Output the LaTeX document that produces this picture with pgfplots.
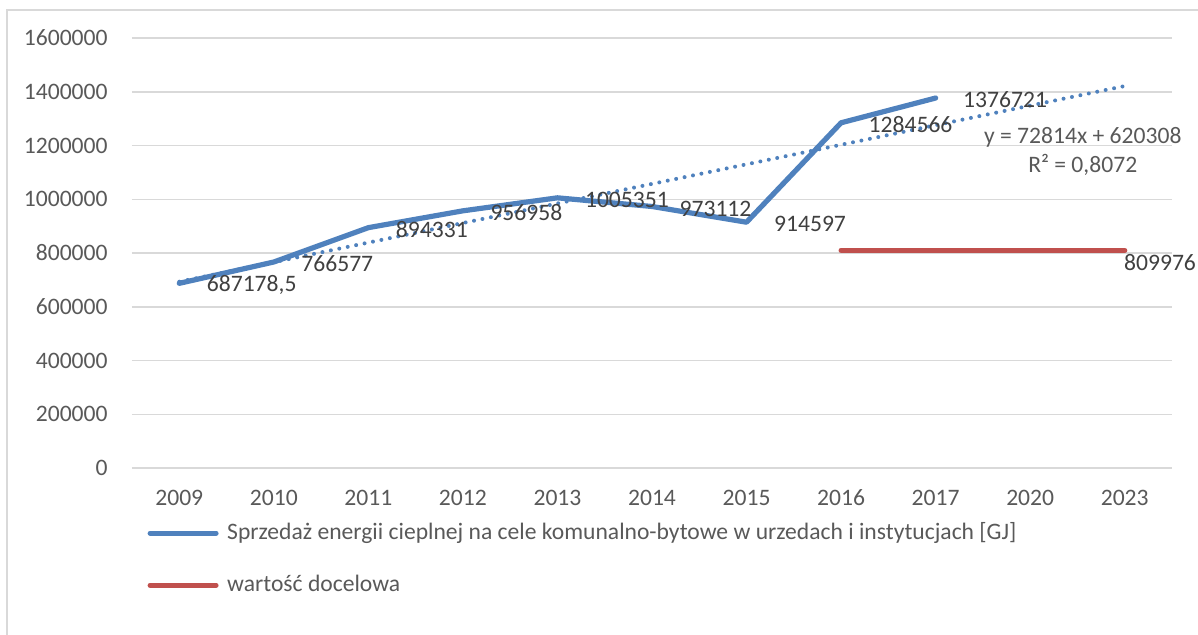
\documentclass[border=0pt]{standalone}
\usepackage{pgfplots}
\pgfplotsset{compat=1.18}
\usepackage{fontspec}
\setmainfont{Carlito}
\definecolor{serblue}{HTML}{4F81BD}
\definecolor{serred}{HTML}{C0504D}
\definecolor{gridgray}{HTML}{D9D9D9}
\definecolor{ticktext}{HTML}{595959}
\definecolor{lbltext}{HTML}{404040}
\newcommand{\chartfont}{\fontsize{11.8}{14.5}\selectfont}

\begin{document}
\begin{tikzpicture}
\chartfont
\path[use as bounding box] (-66pt,-83pt) rectangle (533pt,234pt);
\draw[gridgray, line width=0.8pt] (-62.5pt,-95pt) -- (-62.5pt,229pt) -- (545pt,229pt);
\begin{axis}[
  at={(0pt,0pt)}, anchor=south west,
  scale only axis, width=520pt, height=215pt,
  xmin=-0.5, xmax=10.5, ymin=0, ymax=1600000,
  xtick={0,...,10},
  xticklabels={2009,2010,2011,2012,2013,2014,2015,2016,2017,2020,2023},
  ytick={0,200000,400000,600000,800000,1000000,1200000,1400000,1600000},
  scaled y ticks=false,
  yticklabel={\pgfmathprintnumber[fixed,precision=0,1000 sep={},assume math mode=true]{\tick}},
  axis line style={draw=none}, major tick length=0pt,
  ymajorgrids, grid style={gridgray, line width=0.75pt},
  tick label style={font=\chartfont, text=ticktext},
  yticklabel style={anchor=east, inner sep=0pt, xshift=-12pt},
  xticklabel style={anchor=north, inner sep=0pt, yshift=-10.75pt},
  clip=false, no markers,
  legend image code/.code={
    \path (0pt,0pt) (35.5pt,0pt);
    \draw[#1, line width=2.5pt, line cap=round] (1.25pt,0pt) -- (34.25pt,0pt);
  },
  legend cell align=left,
  legend style={draw=none, fill=none, inner sep=0pt, outer sep=0pt,
    at={(axis description cs:0.0125,-0.2116)}, anchor=west,
    row sep=16pt, font=\chartfont, text=ticktext,
    nodes={inner sep=0pt, inner xsep=3pt}},
  every node near coord/.append style={anchor=west, inner sep=0pt,
    font=\chartfont, text=lbltext},
]
\addplot[serblue, line width=2.6pt, line cap=round, line join=round,
  nodes near coords, point meta=explicit symbolic,
  every node near coord/.append style={xshift=12.5pt, yshift=-1pt}]
  coordinates {
  (0,687178.5) [687178,5]
  (1,766577)   [766577]
  (2,894331)   [894331]
  (3,956958)   [956958]
  (4,1005351)  [1005351]
  (5,973112)   [973112]
  (6,914597)   [914597]
  (7,1284566)  [1284566]
  (8,1376721)  [1376721]
};
\addlegendentry{Sprzedaż energii cieplnej na cele komunalno-bytowe w urzedach i instytucjach [GJ]}
\addplot[serred, line width=2.6pt, line cap=round] coordinates {
  (7,809976) (8,809976) (9,809976) (10,809976)
};
\addlegendentry{wartość docelowa}
% linear trend of the blue series: y = 72814x + 620308 (x = 1 for 2009)
\addplot[serblue, line width=2pt, line cap=round, dash pattern=on 0pt off 4.3pt, forget plot]
  coordinates {(0,693122) (10,1421262)};
\addplot[draw=none, forget plot, nodes near coords, point meta=explicit symbolic,
  every node near coord/.append style={xshift=-0.5pt, yshift=-5.9pt}]
  coordinates {(10,809976) [809976]};
\node[align=center, text=ticktext, font=\chartfont, inner sep=0pt]
  at (axis cs:9.556,1177674) {y = 72814x + 620308\\R² = 0,8072};
\end{axis}
\end{tikzpicture}
\end{document}
